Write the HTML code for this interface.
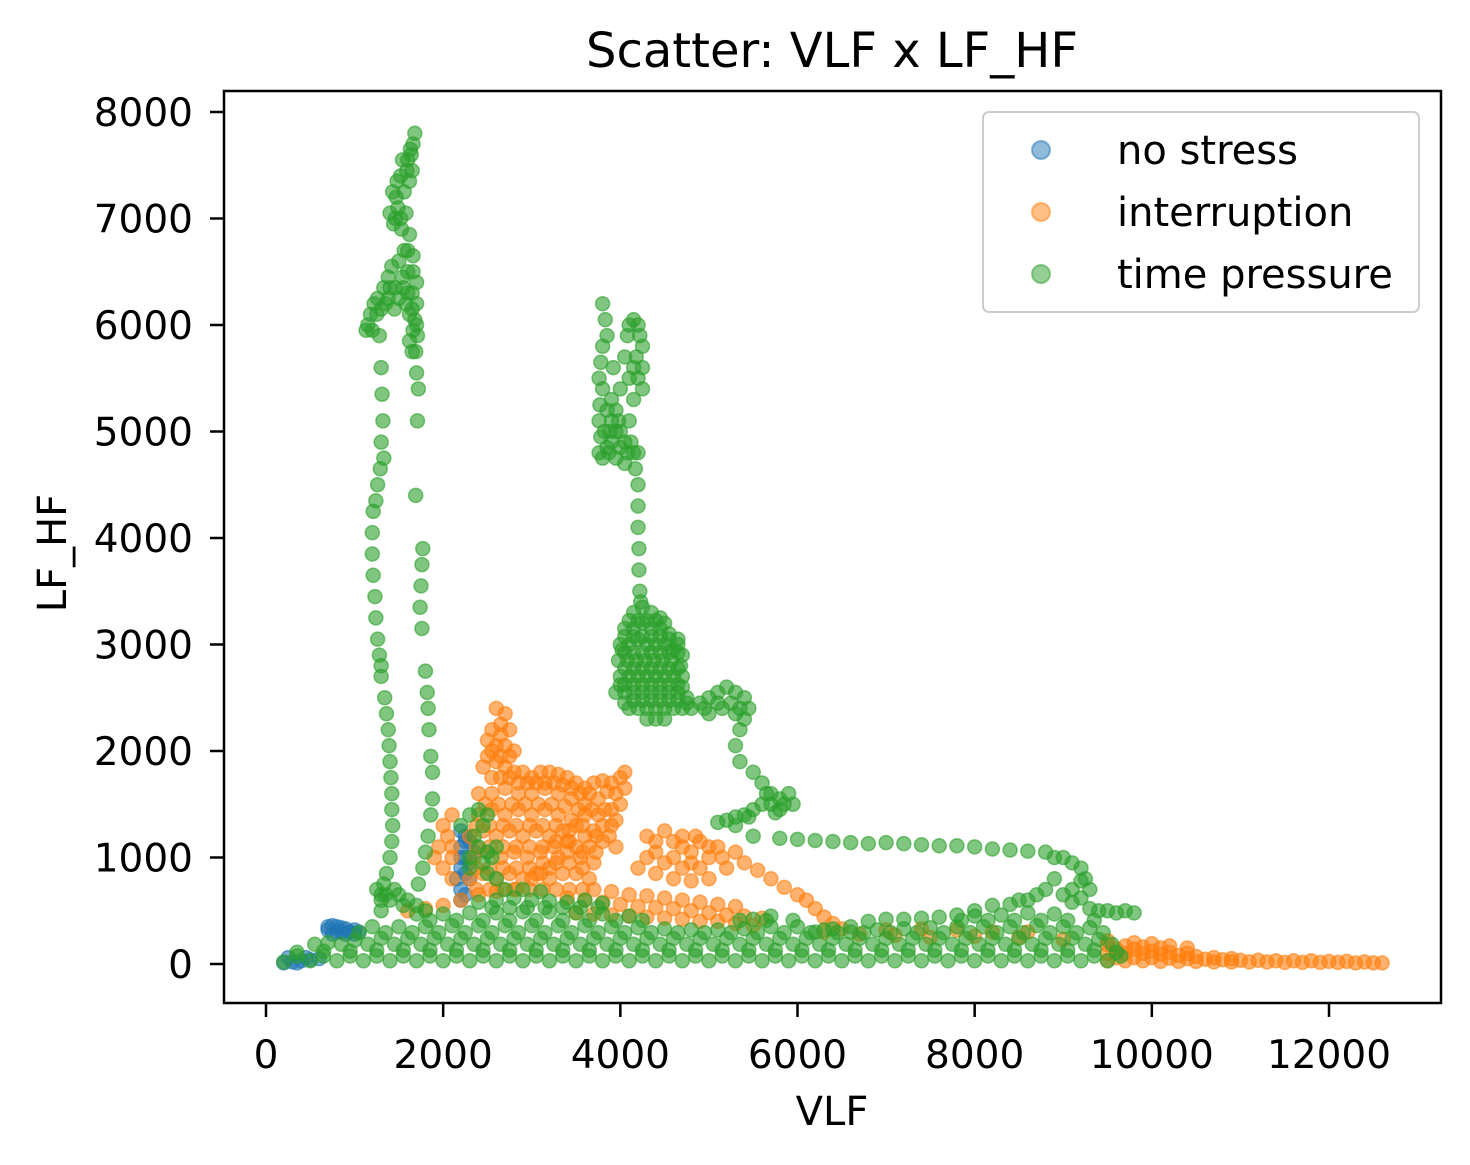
<!DOCTYPE html>
<html><head><meta charset="utf-8"><style>
body{margin:0;background:#fff;}
svg{display:block;font-family:"DejaVu Sans","Liberation Sans",sans-serif;}
</style></head><body>
<svg id="chart" width="1470" height="1165" viewBox="0 0 1470 1165">
<rect width="1470" height="1165" fill="#fff"/>
<text x="832" y="67" font-size="48" text-anchor="middle">Scatter: VLF x LF_HF</text>
<g id="marks"></g>
<rect x="224" y="91" width="1217" height="912" fill="none" stroke="#000" stroke-width="2.5"/>
<g id="axes"></g>
<text x="832" y="1125" font-size="40" text-anchor="middle">VLF</text>
<text x="0" y="0" font-size="40" text-anchor="middle" transform="translate(66,553) rotate(-90)">LF_HF</text>
<g>
<rect x="983" y="112" width="436" height="200" rx="6" fill="#fff" fill-opacity="0.8" stroke="#ccc" stroke-width="2"/>
<g><circle cx="1041" cy="150" r="9" fill="#1f77b4" fill-opacity="0.5" stroke="#1f77b4" stroke-opacity="0.5" stroke-width="2"/><text x="1117" y="164" font-size="40">no stress</text></g>
<g><circle cx="1041" cy="212" r="9" fill="#ff7f0e" fill-opacity="0.5" stroke="#ff7f0e" stroke-opacity="0.5" stroke-width="2"/><text x="1117" y="226" font-size="40">interruption</text></g>
<g><circle cx="1041" cy="274" r="9" fill="#2ca02c" fill-opacity="0.5" stroke="#2ca02c" stroke-opacity="0.5" stroke-width="2"/><text x="1117" y="288" font-size="40">time pressure</text></g>
</g>
</svg>
<script>
const xTicks = [0,2000,4000,6000,8000,10000,12000];
const yTicks = [0,1000,2000,3000,4000,5000,6000,7000,8000];
const seriesNames = ["no stress","interruption","time pressure"];
const seriesColors = ["#1f77b4","#ff7f0e","#2ca02c"];

const noStress = [[700,350],[750,360],[800,350],[850,340],[900,330],[950,300],[1000,280],[1050,300],[800,300],[750,280],[900,280],[700,320],[850,300],[1000,320],[2200,1250],[2250,1200],[2200,1100],[2250,1000],[2200,900],[2150,800],[2200,700],[2250,650],[2300,1150],[2350,1050],[2300,950],[2200,600],[2300,800],[2250,850],[2200,1000],[2250,1150],[200,10],[300,20],[400,30],[500,40],[600,50],[250,60],[350,10],[450,60]];

const interruption = [
[2600,2400],[2700,2350],[2650,2250],[2550,2200],[2750,2200],[2500,2100],[2600,2050],[2700,2050],[2800,2000],[2500,1950],[2450,1850],[2600,1900],[2700,1850],[2800,1800],[2900,1800],[3000,1750],[3100,1800],[3200,1800],[3300,1780],[3400,1750],[3500,1700],[3600,1650],[3700,1700],[3800,1720],[3900,1700],[4000,1750],[4050,1800],[4050,1650],[4000,1500],[3950,1350],[3900,1300],[3800,1300],[3700,1250],[3600,1200],[3500,1100],[3400,1050],[3300,1000],[3200,900],[3100,850],[3000,800],
[2650,2150],[2550,2000],[2650,1950],[2750,1950],[2550,1750],[2650,1750],[2750,1750],[2850,1700],[2950,1700],[3050,1700],[3150,1700],[3250,1700],[3350,1680],[3450,1650],[3550,1600],[3650,1600],[3850,1620],[3950,1600],
[2400,1600],[2550,1600],[2700,1650],[2850,1600],[3000,1600],[3150,1650],[3300,1600],[3450,1550],[3600,1500],[3750,1550],
[2475,1500],[2625,1500],[2775,1500],[2925,1500],[3075,1500],[3225,1500],[3375,1480],[3525,1450],[3675,1450],[3825,1450],
[2400,1400],[2550,1450],[2700,1400],[2850,1450],[3000,1400],[3150,1450],[3300,1400],[3450,1350],[3600,1400],[3750,1400],[3900,1450],
[2375,1300],[2525,1300],[2675,1300],[2825,1300],[2975,1300],[3125,1300],[3275,1300],[3425,1250],[3575,1300],[3725,1200],[3875,1200],
[2300,1200],[2450,1250],[2600,1200],[2750,1250],[2900,1200],[3050,1250],[3200,1200],[3350,1250],[3500,1300],[3650,1100],[3800,1150],[3950,1100],
[2375,1100],[2525,1100],[2675,1100],[2825,1100],[2975,1100],[3125,1100],[3275,1150],[3425,1150],[3575,1050],[3725,1050],
[2350,1000],[2500,1050],[2650,1000],[2800,1050],[2950,1000],[3100,1050],[3250,1100],[3400,1150],[3550,1000],[3700,950],
[2375,900],[2525,900],[2675,900],[2825,900],[2975,900],[3125,950],[3275,950],[3425,950],[3575,900],
[2300,800],[2450,850],[2600,800],[2750,850],[2900,800],[3050,850],[3200,800],[3350,850],[3500,850],[3650,800],
[2375,700],[2525,700],[2675,700],[2825,700],[2975,700],[3125,700],[3275,700],[3425,700],[3575,700],
[2100,1400],[2000,1300],[2050,1200],[1950,1100],[1900,1000],[2000,900],[2100,800],[2100,1100],[2100,1000],
[4300,1200],[4500,1250],[4700,1200],[4900,1150],[5100,1100],[5300,1050],[4600,1000],[4800,950],[5000,1000],[5200,900],[4400,1050],[4700,1100],[4850,1200],
[4400,1150],[4600,1150],[4800,1050],[5000,1100],[5150,1000],[4500,950],[4700,900],[4900,900],[4300,1000],[4200,900],[4400,850],[4600,800],[4800,780],[5000,800],
[5400,950],[5550,880],[5700,800],[5850,720],[6000,650],[6100,600],[6200,520],[6300,440],[6400,380],[6500,330],
[3400,620],[3600,600],[3800,580],[4000,560],[4200,540],[4400,530],[4600,520],[4800,500],[5000,480],[5200,460],[5400,450],[5600,430],
[4100,650],[4300,640],[4500,620],[4700,600],[4900,580],[5100,560],[5300,540],[3900,680],[3700,700],
[3500,480],[3700,470],[3900,460],[4100,450],[4300,440],[4500,430],[4700,420],[4900,400],[5100,400],[5300,380],[5500,360],
[1600,500],[1800,520],[2000,550],[2200,600],[2400,650],[2600,680],[2800,700],
[6300,300],[6700,280],[7100,270],[7500,250],[8000,260],[8500,250],[9000,230],[9500,220],[9800,200],[10000,190],[10200,170],[10400,150],
[9500,30],[9700,30],[9900,30],[10100,25],[10300,25],[10500,25],[10700,20],[10900,20],[11100,20],[11300,20],[11500,15],[11700,15],[11900,15],[12100,15],[12300,10],[12500,10],[12600,10],
[9600,60],[9800,60],[10000,60],[10200,55],[10400,50],[10600,45],[10800,40],[11000,35],[11200,35],[11400,30],[11600,30],[11800,30],[12000,25],[12200,25],[12400,20],
[9500,100],[9700,100],[9900,100],[10100,90],[10300,80],[10500,70],[10700,60],[10900,50],
[9500,180],[9700,170],[9900,160],[10100,150],[9600,140],[9800,140],[10000,120],[10200,110],[10400,100],
[7000,320],[7400,330],[7800,320],[8200,300],[8600,300]
];

const timePressure = [
[1150,6000],[1180,6100],[1220,6200],[1260,6250],[1300,6150],[1330,6350],[1380,6450],[1420,6550],[1460,6350],[1500,6600],[1540,6450],[1580,6200],[1620,6100],[1660,5950],[1690,5750],[1700,5550],[1560,6700],[1530,6900],[1490,7100],[1440,6950],[1400,7050],[1430,7250],[1480,7350],[1520,7400],[1560,7250],[1600,7550],[1630,7650],[1660,7700],[1680,7800],[1640,7600],[1590,7450],[1620,6850],[1660,6650],[1700,6400],[1650,6300],[1600,6500],[1130,5950],[1200,5950],[1700,6200],[1710,5900],[1450,6150],[1380,6250],
[1250,6100],[1350,6200],[1500,6250],[1550,6350],[1600,6300],[1650,6150],[1680,6050],[1650,5750],[1620,5850],[1460,7000],[1520,7000],[1470,7200],[1540,7550],[1580,7050],[1650,7450],[1620,7350],[1600,6700],[1660,6500],[1700,6000],[1400,6350],
[1280,5900],[1300,5600],[1310,5350],[1320,5100],[1300,4900],[1330,4750],[1290,4650],[1260,4500],[1240,4350],[1210,4250],[1200,4050],[1200,3850],[1210,3650],[1230,3450],[1240,3250],[1260,3050],[1280,2900],[1300,2800],[1300,2700],[1340,2500],[1360,2350],[1380,2200],[1390,2050],[1400,1900],[1410,1750],[1420,1600],[1420,1450],[1430,1300],[1420,1150],[1400,1000],[1360,850],[1330,750],[1300,650],
[1720,5400],[1710,5100],[1690,4400],[1770,3900],[1760,3750],[1750,3550],[1740,3350],[1760,3150],[1800,2750],[1820,2550],[1830,2400],[1840,2200],[1860,1950],[1880,1800],[1880,1550],[1860,1400],[1830,1200],[1800,1050],[1770,900],[1720,750],
[3800,6200],[3830,6050],[3850,5900],[3800,5800],[3780,5650],[3760,5500],[3800,5400],[3770,5250],[3760,5100],[3780,4950],[3760,4800],[3800,4750],[3880,5000],[3900,5300],[3920,5600],[3950,5200],[3980,5100],[4000,5400],[4050,5700],[4080,5900],[4100,6000],[4150,6050],[4200,6000],[4220,5900],[4180,5700],[4200,5500],[4250,5800],[4250,5400],[4150,5300],[4100,5100],[4120,4900],[4080,4800],[4050,4700],[4000,4850],[3950,4750],[3900,4900],[3850,5200],[3870,4800],[4200,4800],[4170,4650],
[3820,5000],[3850,4850],[3900,5100],[3950,5000],[4000,5000],[4050,4900],[4150,4800],[4100,5500],[4150,5600],[4250,5600],
[4200,4500],[4200,4300],[4200,4100],[4210,3900],[4210,3700],[4220,3500],[4230,3400],
[4150,3300],[4250,3350],[4350,3300],[4450,3250],
[4100,3225],[4200,3225],[4300,3225],[4400,3225],[4500,3200],
[4050,3150],[4150,3150],[4250,3200],[4350,3150],[4450,3150],[4550,3100],
[4050,3075],[4150,3075],[4250,3075],[4350,3075],[4450,3075],[4550,3050],[4650,3000],
[4000,3000],[4100,3000],[4200,3050],[4300,3000],[4400,3000],[4500,3000],[4600,2950],[4700,2900],
[4050,2925],[4150,2925],[4250,2925],[4350,2925],[4450,2925],[4550,2925],[4650,2925],
[3980,2850],[4080,2850],[4180,2850],[4280,2850],[4380,2850],[4480,2850],[4580,2850],[4680,2800],
[4050,2775],[4150,2775],[4250,2775],[4350,2775],[4450,2775],[4550,2775],[4650,2775],
[4000,2700],[4100,2700],[4200,2700],[4300,2700],[4400,2700],[4500,2700],[4600,2700],[4700,2700],
[4050,2625],[4150,2625],[4250,2625],[4350,2625],[4450,2625],[4550,2625],[4650,2625],
[3950,2550],[4050,2550],[4150,2550],[4250,2550],[4350,2550],[4450,2550],[4550,2550],[4650,2550],[4750,2500],
[4150,2475],[4250,2475],[4350,2475],[4450,2475],[4550,2475],[4650,2475],[4750,2450],
[4100,2400],[4200,2400],[4300,2400],[4400,2400],[4500,2400],[4600,2400],[4700,2400],[4800,2400],
[4300,2300],[4400,2300],[4500,2300],[4050,2450],[4000,2620],[4020,2950],[4650,3050],[4700,2600],
[4900,2450],[5000,2500],[5100,2550],[5200,2600],[5300,2550],[5400,2500],[5450,2400],[5400,2300],[5300,2350],[5150,2400],[5000,2350],[5350,2200],[5300,2050],[5350,1900],[5500,1800],[5600,1700],[5700,1600],[5800,1550],[5900,1600],[5950,1500],[5800,1450],[5600,1500],[5500,1450],[5400,1400],[5300,1380],[5200,1350],[5100,1330],
[4950,2400],[5250,2450],[5100,2450],[5350,2400],[5700,1500],[5650,1600],[5850,1500],[5750,1420],[5450,1380],[5300,1300],
[5500,1200],[5800,1180],[6000,1170],[6200,1160],[6400,1150],[6600,1140],[6800,1130],[7000,1140],[7200,1130],[7400,1120],[7600,1110],[7800,1110],[8000,1100],[8200,1080],[8400,1070],[8600,1060],[8800,1050],[8900,1000],[9000,1000],[9100,950],[9200,900],[9250,800],[9300,700],[9200,620],[9100,580],[9300,520],[9500,500],[9700,500],[9800,480],[8800,700],[8600,600],[8400,560],[8200,550],[8000,500],[7800,460],[7600,440],[7400,430],[7200,420],[7000,420],[6800,400],[6600,350],[6400,330],[6200,300],
[9000,650],[8900,800],[9100,700],[9200,780],[8700,650],[8500,600],[9400,500],[9600,480],
[1300,500],[1400,600],[1500,650],[1600,600],[1800,500],[1250,700],[1350,650],[1450,700],[1550,550],[1700,550],[1300,600],
[2200,1300],[2300,1400],[2400,1450],[2500,1400],[2450,1300],[2350,1200],[2400,1100],[2500,1050],[2600,1100],[2550,1000],[2450,950],[2500,850],[2600,800],[2700,700],[2300,1000],[2300,900],
[200,20],[500,30],[800,30],[1100,30],[1400,30],[1700,30],[2000,30],[2300,30],[2600,30],[2900,30],[3200,30],[3500,30],[3800,30],[4100,30],[4400,30],[4700,30],[5000,30],[5300,30],[5600,30],[5900,30],[6200,30],[6500,30],[6800,30],[7100,30],[7400,30],[7700,30],[8000,30],[8300,30],[8600,30],[8900,30],[9200,30],[9500,30],
[350,75],[650,75],[950,75],[1250,75],[1550,75],[1850,75],[2150,75],[2450,75],[2750,75],[3050,75],[3350,75],[3650,75],[3950,75],[4250,75],[4550,75],[4850,75],[5150,75],[5450,75],[5750,75],[6050,75],[6350,75],[6650,75],[6950,75],[7250,75],[7550,75],[7850,75],[8150,75],[8450,75],[8750,75],[9050,75],[9350,75],[9650,75],
[350,110],[650,120],[950,120],[1250,130],[1550,130],[1850,130],[2150,130],[2450,130],[2750,130],[3050,130],[3350,130],[3650,130],[3950,130],[4250,130],[4550,130],[4850,130],[5150,130],[5450,130],[5750,130],[6050,130],[6350,130],[6650,130],[6950,130],[7250,130],[7550,130],[7850,130],[8150,130],[8450,130],[8750,130],[9050,130],[9350,130],[9600,110],
[550,185],[850,185],[1150,185],[1450,185],[1750,185],[2050,185],[2350,185],[2650,185],[2950,185],[3250,185],[3550,185],[3850,185],[4150,185],[4450,185],[4750,185],[5050,185],[5350,185],[5650,185],[5950,185],[6250,185],[6550,185],[6850,185],[7150,185],[7450,185],[7750,185],[8050,185],[8350,185],[8650,185],[8950,185],[9250,185],[9550,185],
[700,200],[1000,220],[1300,240],[1600,240],[1900,240],[2200,240],[2500,240],[2800,240],[3100,240],[3400,240],[3700,240],[4000,240],[4300,240],[4600,240],[4900,240],[5200,240],[5500,240],[5800,240],[6100,240],[6400,240],[6700,240],[7000,240],[7300,240],[7600,240],[7900,240],[8200,240],[8500,240],[8800,240],[9100,240],[9400,230],
[1050,295],[1350,295],[1650,295],[1950,295],[2250,295],[2550,295],[2850,295],[3150,295],[3450,295],[3750,295],[4050,295],[4350,295],[4650,295],[4950,295],[5250,295],[5550,295],[5850,295],[6150,295],[6450,295],[6750,295],[7050,295],[7350,295],[7650,295],[7950,295],[8250,295],[8550,295],[8850,295],[9150,295],[9450,295],
[1200,350],[1500,350],[1800,350],[2100,360],[2400,360],[2700,360],[3000,360],[3300,360],[3600,360],[3900,350],[4200,340],[4500,330],[4800,320],[5100,320],[5400,330],[5700,350],[6000,350],[6300,320],[6600,300],[6900,320],[7200,330],[7500,340],[7800,350],[8100,350],[8400,350],[8700,360],[9000,350],[9300,340],
[1850,410],[2150,410],[2450,410],[2750,410],[3050,410],[3350,410],[3650,410],[3950,410],[4250,410],[5350,410],[5650,410],[5950,410],[7850,410],[8150,410],[8450,410],[8750,410],[9050,410],[9350,410],
[1700,470],[2000,470],[2300,480],[2600,480],[2900,490],[3200,490],[3500,480],[3800,470],[4100,450],[5500,420],[5700,450],[8000,450],[8300,460],[8600,480],[8900,470],
[2550,530],[2750,530],[2950,530],[3150,530],[3350,530],[3550,530],[3750,530],
[2400,580],[2600,600],[2800,620],[3000,600],[3200,590],[3400,580],[3600,600],[3800,570],[2900,700],[3100,680]
];

const allSeries = [noStress, interruption, timePressure];

function xScale(v){ return 266 + v * (1329 - 266) / 12000; }
function yScale(v){ return 964 - v * (964 - 112) / 8000; }

const NS = "http://www.w3.org/2000/svg";
const marks = document.getElementById("marks");
const axes = document.getElementById("axes");

allSeries.forEach((pts, si) => {
  const g = document.createElementNS(NS, "g");
  
  
  pts.forEach(p => {
    const c = document.createElementNS(NS, "circle");
    
    
    c.setAttribute("cx", xScale(p[0]));
    c.setAttribute("cy", yScale(p[1]));
    c.setAttribute("r", 7);
    c.setAttribute("fill", seriesColors[si]);
    c.setAttribute("fill-opacity", 0.6);
    c.setAttribute("stroke", seriesColors[si]);
    c.setAttribute("stroke-opacity", 0.6);
    c.setAttribute("stroke-width", 1.5);
    g.appendChild(c);
  });
  marks.appendChild(g);
});

xTicks.forEach(t => {
  const x = xScale(t);
  const l = document.createElementNS(NS, "line");
  
  
  l.setAttribute("x1", x); l.setAttribute("x2", x);
  l.setAttribute("y1", 1003); l.setAttribute("y2", 1017);
  l.setAttribute("stroke", "#000"); l.setAttribute("stroke-width", 2.5);
  axes.appendChild(l);
  const tx = document.createElementNS(NS, "text");
  
  
  tx.setAttribute("x", x); tx.setAttribute("y", 1068);
  tx.setAttribute("font-size", 39); tx.setAttribute("text-anchor", "middle");
  tx.textContent = t;
  axes.appendChild(tx);
});
yTicks.forEach(t => {
  const y = yScale(t);
  const l = document.createElementNS(NS, "line");
  
  
  l.setAttribute("x1", 210); l.setAttribute("x2", 224);
  l.setAttribute("y1", y); l.setAttribute("y2", y);
  l.setAttribute("stroke", "#000"); l.setAttribute("stroke-width", 2.5);
  axes.appendChild(l);
  const tx = document.createElementNS(NS, "text");
  
  
  tx.setAttribute("x", 193); tx.setAttribute("y", y + 14);
  tx.setAttribute("font-size", 39); tx.setAttribute("text-anchor", "end");
  tx.textContent = t;
  axes.appendChild(tx);
});
</script>
</body></html>
